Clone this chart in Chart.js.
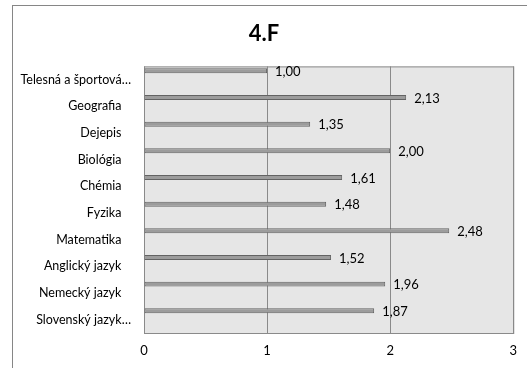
<!DOCTYPE html>
<html>
<head>
<meta charset="utf-8">
<script src="https://cdn.jsdelivr.net/npm/chart.js@4"></script>
<style>
	body { margin: 0; background: #fff; }
	.frame {
		position: absolute; left: 12px; top: 5px;
		width: 600px; height: 400px;
		border: 1px solid #868686;
	}
	#chart { position: absolute; left: 0; top: 0; }
</style>
</head>
<body>
<div class="frame"></div>
<canvas id="chart" width="527" height="368"></canvas>
<script>
// subjects, top to bottom as they appear
const subjects = [
	'Telesná a športová…',
	'Geografia',
	'Dejepis',
	'Biológia',
	'Chémia',
	'Fyzika',
	'Matematika',
	'Anglický jazyk',
	'Nemecký jazyk',
	'Slovenský jazyk…'
];
const averages = [1.00, 2.13, 1.35, 2.00, 1.61, 1.48, 2.48, 1.52, 1.96, 1.87];
// excel had empty series next to the real one, that's why the bars sit high
const emptySeriesA = [];
const emptySeriesB = [];
const xTicks = [0, 1, 2, 3];

const FONT = 'Lato, Calibri, sans-serif';

// grey plot area + frame
const plotBackground = {
	id: 'plotBackground',
	beforeDraw(chart) {
		const { ctx, chartArea: a } = chart;
		ctx.save();
		ctx.fillStyle = '#e6e6e6';
		ctx.fillRect(a.left, a.top, a.right - a.left, a.bottom - a.top);
		ctx.restore();
	},
	beforeDatasetsDraw(chart) {
		const { ctx, chartArea: a } = chart;
		ctx.save();
		ctx.strokeStyle = '#8a8a8a';
		ctx.lineWidth = 1;
		ctx.strokeRect(a.left + 0.5, a.top + 0.5, a.right - a.left, a.bottom - a.top);
		ctx.restore();
	}
};

// value labels right of each bar
const valueLabels = {
	id: 'valueLabels',
	afterDatasetsDraw(chart) {
		const ctx = chart.ctx;
		const meta = chart.getDatasetMeta(0);
		ctx.save();
		ctx.font = '13px ' + FONT;
		ctx.fillStyle = '#000';
		ctx.textAlign = 'left';
		ctx.textBaseline = 'middle';
		meta.data.forEach((bar, i) => {
			const txt = averages[i].toFixed(2).replace('.', ',');
			ctx.fillText(txt, bar.x + 8, bar.y + 1);
		});
		ctx.restore();
	}
};

new Chart(document.getElementById('chart'), {
	type: 'bar',
	data: {
		labels: subjects,
		datasets: [
			{
				data: averages,
				backgroundColor: '#9c9c9c',
				borderColor: '#636363',
				borderWidth: 1,
				borderSkipped: false
			},
			{ data: emptySeriesA },
			{ data: emptySeriesB }
		]
	},
	options: {
		indexAxis: 'y',
		responsive: false,
		animation: false,
		categoryPercentage: 1,
		barPercentage: 0.56,
		layout: { padding: { left: 12, right: 11, top: 0, bottom: 0 } },
		plugins: {
			legend: { display: false },
			tooltip: { enabled: false },
			title: {
				display: true,
				text: '4.F',
				color: '#000',
				font: { family: FONT, size: 22, weight: 'bold', lineHeight: 1.2 },
				padding: { top: 21, bottom: 19 }
			}
		},
		scales: {
			x: {
				min: 0,
				max: 3,
				afterBuildTicks(scale) {
					scale.ticks = xTicks.map(v => ({ value: v }));
				},
				afterFit(scale) { scale.height = 35; },
				grid: { color: '#8a8a8a', drawTicks: false },
				border: { display: false },
				ticks: {
					color: '#000',
					padding: 10,
					font: { family: FONT, size: 13 }
				}
			},
			y: {
				afterFit(scale) { scale.width = 132; },
				grid: { display: false },
				border: { display: false },
				ticks: {
					color: '#000',
					padding: 5,
					font: { family: FONT, size: 12.5 },
					callback(value) {
						const s = this.getLabelForValue(value);
						return s.endsWith('…') ? s : s + '   ';
					}
				}
			}
		}
	},
	plugins: [plotBackground, valueLabels]
});
</script>
</body>
</html>
